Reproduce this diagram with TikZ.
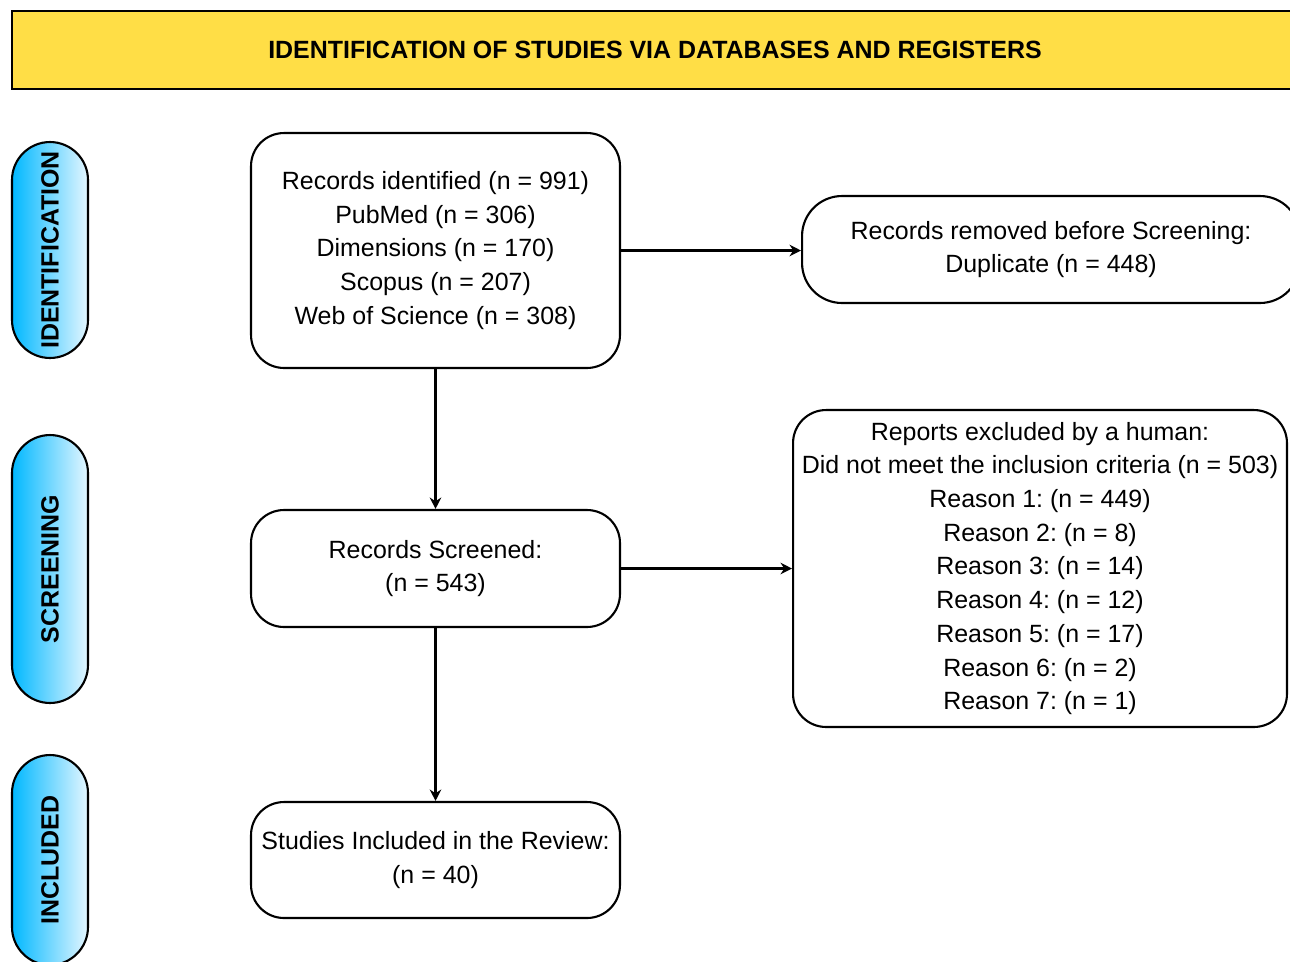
\documentclass[tikz,border=0pt]{standalone}
\usepackage{fontspec}
\setmainfont{Liberation Sans}
\frenchspacing
\usetikzlibrary{arrows.meta, positioning, calc}
\definecolor{hdryellow}{RGB}{255,222,70}
\definecolor{pillcyan}{RGB}{0,184,255}
\definecolor{pillpale}{RGB}{228,246,255}
\newcommand{\flowfont}{\fontsize{14.2}{19.2}\selectfont}
\tikzset{
    flowbox/.style={draw, line width=1.2pt, rounded corners=0.66cm, align=center, inner sep=0pt, font=\flowfont},
    phase/.style={draw, line width=1.2pt, rounded corners=0.76cm, rotate=90, minimum height=1.52cm, inner sep=0pt, font=\flowfont\bfseries, left color=pillcyan, right color=pillpale},
    flow/.style={-{Stealth[length=6.5pt, width=6.5pt]}, line width=1.2pt}
}

\begin{document}
\begin{tikzpicture}[x=0.02cm, y=-0.02cm]
    \useasboundingbox (0,0) rectangle (1290,961);
    % Header bar
    \node[draw, line width=1.2pt, fill=hdryellow, minimum width=25.72cm, minimum height=1.56cm, inner sep=0pt, font=\flowfont\bfseries] (header) at (655,50) {IDENTIFICATION OF STUDIES VIA DATABASES AND REGISTERS};
    % Phase labels
    \node[phase, minimum width=4.32cm] (pident) at (50,250) {IDENTIFICATION};
    \node[phase, minimum width=5.36cm] (pscreen) at (50,569) {SCREENING};
    \node[phase, minimum width=4.2cm] (pincl) at (50,860) {INCLUDED};
    % Main column
    \node[flowbox, minimum width=7.38cm, minimum height=4.7cm] (ident) at (435.5,250.5) {Records identified (n = 991)\\PubMed (n = 306)\\Dimensions (n = 170)\\Scopus (n = 207)\\Web of Science (n = 308)};
    \node[flowbox, minimum width=7.38cm, minimum height=2.34cm] (screen) at (435.5,568.5) {Records Screened:\\(n = 543)};
    \node[flowbox, minimum width=7.38cm, minimum height=2.32cm] (incl) at (435.5,860) {Studies Included in the Review:\\(n = 40)};
    % Side column
    \node[flowbox, minimum width=9.96cm, minimum height=2.14cm, rounded corners=0.8cm] (dup) at (1051,249.5) {Records removed before Screening:\\Duplicate (n = 448)};
    \node[flowbox, minimum width=9.88cm, minimum height=6.34cm] (excl) at (1040,568.5) {Reports excluded by a human:\\Did not meet the inclusion criteria (n = 503)\\Reason 1: (n = 449)\\Reason 2: (n = 8)\\Reason 3: (n = 14)\\Reason 4: (n = 12)\\Reason 5: (n = 17)\\Reason 6: (n = 2)\\Reason 7: (n = 1)};
    % Arrows
    \draw[flow] (ident.east) -- (ident.east -| dup.west);
    \draw[flow] (ident.south) -- (screen.north);
    \draw[flow] (screen.east) -- (screen.east -| excl.west);
    \draw[flow] (screen.south) -- (incl.north);
\end{tikzpicture}
\end{document}
